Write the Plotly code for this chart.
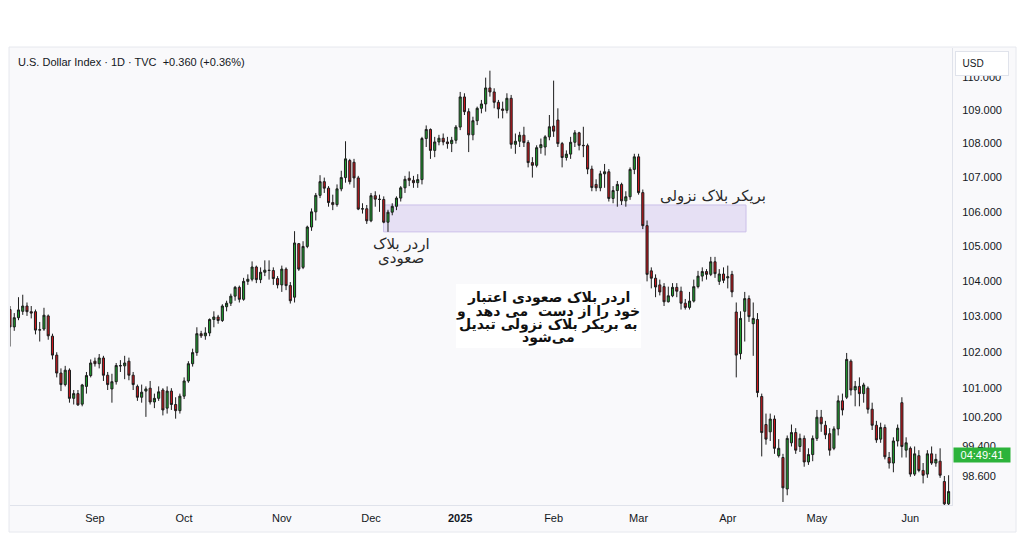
import math
import pandas as pd
import plotly.graph_objects as go

# ---------------- data ----------------
holidays = ["2024-12-25", "2025-01-01", "2025-04-18"]
dates = [d.strftime("%Y-%m-%d") for d in pd.bdate_range("2024-08-01", "2025-06-13")
         if d.strftime("%Y-%m-%d") not in holidays]

opens = [
    # Aug
    104.10, 104.40, 103.20, 102.71, 102.97, 103.15, 103.30, 103.14, 103.14, 102.62, 102.65,
    103.02, 102.45, 101.92, 101.42, 101.10, 101.50, 100.72, 100.85, 100.56, 101.05, 101.35,
    # Sep
    101.75, 101.68, 101.84, 101.36, 100.98, 101.18, 101.63, 101.62, 101.75, 101.36, 101.05,
    100.75, 100.92, 101.00, 100.62, 100.72, 100.95, 100.45, 100.92, 100.55, 100.38,
    # Oct
    100.78, 101.20, 101.68, 101.99, 102.52, 102.46, 102.54, 102.92, 102.99, 102.89, 103.28,
    103.38, 103.58, 103.83, 103.49, 104.00, 104.06, 104.41, 104.05, 104.26, 104.32, 104.31, 104.08,
    # Nov
    103.90, 104.35, 103.88, 103.55, 105.08, 104.40, 105.00, 105.56, 106.00, 106.48, 106.88,
    106.69, 106.27, 106.21, 106.67, 107.00, 107.50, 107.45, 106.99, 106.08, 106.09,
    # Dec
    105.74, 106.47, 106.37, 106.36, 105.70, 105.99, 106.16, 106.40, 106.70, 106.98, 106.92,
    106.85, 106.94, 108.15, 108.42, 107.80, 108.05, 108.16, 108.05, 108.00, 108.10,
    # Jan
    108.49, 109.39, 108.95, 108.26, 108.68, 109.05, 109.18, 109.66, 109.54, 109.23, 109.03,
    108.99, 109.35, 107.98, 108.07, 108.25, 108.03, 107.44, 107.36, 107.88, 107.90, 108.20,
    # Feb
    108.52, 108.70, 108.00, 107.59, 107.69, 108.04, 108.32, 107.95, 107.94, 107.25, 106.80,
    106.70, 107.11, 107.17, 106.39, 106.62, 106.80, 106.32, 106.44, 107.24,
    # Mar
    107.61, 106.56, 105.60, 104.30, 104.09, 103.90, 103.85, 103.42, 103.59, 103.83, 103.72,
    103.38, 103.26, 103.44, 103.85, 104.15, 104.28, 104.20, 104.56, 104.00, 104.21,
    # Apr
    104.10, 104.20, 103.13, 101.96, 103.15, 103.51, 102.80, 102.92, 100.77, 100.00, 99.80,
    100.15, 99.15, 99.10, 98.25, 99.50, 99.78, 99.40, 99.62, 98.98, 99.18,
    # May
    99.62, 100.20, 99.98, 99.75, 99.35, 99.88, 100.65, 100.75, 101.75, 100.95, 101.05,
    100.85, 101.00, 100.42, 99.98, 99.60, 99.92, 99.10, 98.95, 99.55, 100.60, 99.30,
    # Jun
    99.35, 98.65, 99.15, 98.75, 98.65, 99.20, 98.95, 99.00, 98.45, 97.85,
]

highs = [
    # Aug
    104.50, 104.45, 103.30, 103.10, 103.55, 103.62, 103.40, 103.30, 103.20, 102.85, 103.25,
    103.06, 102.52, 102.00, 101.55, 101.62, 101.55, 100.95, 100.95, 101.12, 101.45, 101.80,
    # Sep
    101.85, 101.95, 101.90, 101.45, 101.40, 101.70, 101.78, 101.90, 101.85, 101.45, 101.10,
    101.10, 101.05, 101.20, 100.85, 101.05, 101.00, 101.05, 101.00, 100.75, 100.85,
    # Oct
    101.30, 101.75, 102.10, 102.70, 102.60, 102.70, 102.95, 103.15, 103.05, 103.35, 103.45,
    103.65, 103.87, 103.88, 104.10, 104.20, 104.57, 104.45, 104.40, 104.60, 104.60, 104.40, 104.15,
    # Nov
    104.45, 104.40, 103.98, 105.44, 105.10, 105.15, 105.60, 106.10, 106.55, 107.07, 107.00,
    106.75, 106.50, 106.80, 107.20, 108.07, 107.55, 107.55, 107.05, 106.25, 106.20,
    # Dec
    106.55, 106.60, 106.50, 106.45, 106.06, 106.25, 106.45, 106.75, 107.05, 107.18, 107.05,
    107.10, 108.20, 108.54, 108.45, 108.20, 108.26, 108.30, 108.20, 108.20, 108.55,
    # Jan
    109.54, 109.50, 109.05, 108.80, 109.10, 109.30, 109.97, 110.18, 109.65, 109.30, 109.25,
    109.50, 109.45, 108.30, 108.35, 108.50, 108.10, 107.60, 107.95, 108.15, 108.25, 108.85,
    # Feb
    109.88, 109.05, 108.05, 107.80, 108.20, 108.40, 108.35, 108.50, 108.00, 107.35, 106.95,
    107.20, 107.40, 107.25, 106.75, 106.90, 106.85, 106.60, 107.30, 107.70,
    # Mar
    107.70, 106.65, 105.75, 104.40, 104.20, 104.05, 103.95, 103.85, 103.95, 103.95, 103.85,
    103.50, 103.70, 104.05, 104.30, 104.40, 104.35, 104.70, 104.70, 104.35, 104.40,
    # Apr
    104.45, 104.30, 103.40, 103.15, 103.70, 103.60, 103.40, 103.10, 100.85, 100.30, 100.30,
    100.25, 99.60, 99.20, 99.70, 100.00, 99.90, 99.75, 99.70, 99.35, 99.70,
    # May
    100.40, 100.40, 100.10, 99.90, 99.95, 100.80, 100.85, 101.98, 101.80, 101.20, 101.30,
    101.15, 101.05, 100.60, 100.10, 100.05, 100.00, 99.25, 99.65, 100.00, 100.75, 99.65,
    # Jun
    99.40, 99.40, 99.30, 98.95, 99.30, 99.40, 99.20, 99.35, 98.60, 98.62,
]

lows = [
    # Aug
    103.85, 103.00, 102.16, 102.60, 102.90, 103.05, 103.02, 102.95, 102.50, 102.30, 102.60,
    102.35, 101.80, 101.30, 100.92, 101.05, 100.60, 100.55, 100.51, 100.50, 100.85, 101.30,
    # Sep
    101.60, 101.55, 101.20, 100.95, 100.60, 101.10, 101.45, 101.25, 101.22, 100.95, 100.65,
    100.60, 100.21, 100.55, 100.45, 100.65, 100.25, 100.30, 100.40, 100.16, 100.30,
    # Oct
    100.70, 101.15, 101.60, 101.90, 102.40, 102.35, 102.45, 102.70, 102.80, 102.85, 103.15,
    103.30, 103.45, 103.40, 103.45, 103.90, 104.00, 103.95, 103.95, 104.15, 104.05, 103.90, 103.80,
    # Nov
    103.70, 103.75, 103.37, 103.40, 104.30, 104.35, 104.95, 105.45, 105.75, 106.40, 106.55,
    106.15, 106.05, 106.15, 106.60, 106.85, 106.80, 106.70, 106.05, 105.95, 105.65,
    # Dec
    105.70, 106.15, 106.00, 105.67, 105.42, 105.90, 106.05, 106.30, 106.55, 106.75, 106.70,
    106.70, 106.80, 107.90, 107.55, 107.60, 107.95, 107.95, 107.85, 107.75, 108.00,
    # Jan
    108.40, 108.85, 107.75, 108.10, 108.55, 108.90, 108.95, 109.40, 109.05, 108.75, 108.75,
    108.90, 107.85, 107.70, 107.90, 107.90, 107.30, 107.00, 107.30, 107.70, 107.65, 108.10,
    # Feb
    108.20, 107.90, 107.30, 107.50, 107.55, 107.90, 107.80, 107.60, 107.10, 106.60, 106.60,
    106.60, 106.70, 106.30, 106.25, 106.15, 106.20, 106.15, 106.35, 107.10,
    # Mar
    106.50, 105.50, 104.00, 103.80, 103.55, 103.60, 103.30, 103.40, 103.55, 103.55, 103.20,
    103.20, 103.20, 103.40, 103.80, 104.00, 104.05, 104.15, 104.10, 103.90, 103.95,
    # Apr
    103.80, 103.55, 101.30, 101.80, 102.30, 102.85, 101.90, 100.75, 99.13, 99.45, 99.55,
    99.20, 99.10, 97.90, 98.08, 99.40, 99.20, 99.25, 98.85, 98.90, 99.00,
    # May
    99.55, 99.80, 99.60, 99.15, 99.30, 99.70, 100.25, 100.70, 100.80, 100.50, 100.50,
    100.60, 100.30, 99.85, 99.50, 99.50, 99.05, 98.80, 98.70, 99.40, 99.10, 99.10,
    # Jun
    98.58, 98.60, 98.70, 98.40, 98.55, 98.90, 98.85, 98.55, 97.65, 97.60,
]

closes = [
    # Aug
    104.41, 103.21, 102.71, 102.97, 103.19, 103.30, 103.14, 103.10, 102.62, 102.63, 103.04,
    102.46, 101.92, 101.42, 101.10, 101.50, 100.72, 100.85, 100.54, 101.09, 101.35, 101.70,
    # Sep
    101.68, 101.84, 101.36, 101.10, 101.18, 101.63, 101.62, 101.70, 101.36, 101.10, 100.75,
    100.89, 100.98, 100.62, 100.72, 100.90, 100.40, 100.92, 100.55, 100.38, 100.78,
    # Oct
    101.20, 101.68, 101.99, 102.52, 102.46, 102.54, 102.92, 102.99, 102.89, 103.30, 103.38,
    103.58, 103.83, 103.49, 104.00, 104.06, 104.41, 104.05, 104.26, 104.32, 104.31, 104.08, 103.90,
    # Nov
    104.35, 103.88, 103.45, 105.10, 104.35, 105.00, 105.56, 106.00, 106.48, 106.88, 106.69,
    106.27, 106.21, 106.67, 107.00, 107.55, 106.88, 106.99, 106.08, 106.09, 105.74,
    # Dec
    106.47, 106.37, 106.36, 105.70, 105.99, 106.16, 106.40, 106.70, 106.95, 106.92, 106.85,
    106.94, 108.15, 108.42, 107.80, 108.05, 108.16, 108.05, 108.00, 108.10, 108.49,
    # Jan
    109.39, 108.95, 108.26, 108.68, 109.05, 109.18, 109.66, 109.54, 109.23, 109.03, 108.99,
    109.35, 107.98, 108.07, 108.25, 108.03, 107.44, 107.36, 107.88, 107.97, 108.20, 108.50,
    # Feb
    108.37, 108.00, 107.59, 107.69, 108.04, 108.32, 107.95, 107.94, 107.25, 106.71, 106.70,
    107.11, 107.17, 106.39, 106.62, 106.80, 106.32, 106.44, 107.24, 107.61,
    # Mar
    106.56, 105.60, 104.20, 104.09, 103.84, 103.70, 103.42, 103.59, 103.83, 103.72, 103.38,
    103.26, 103.44, 103.85, 104.15, 104.28, 104.20, 104.56, 104.22, 104.21, 104.03,
    # Apr
    104.13, 103.70, 101.92, 102.95, 103.51, 103.00, 102.95, 100.88, 99.78, 99.60, 100.15,
    99.35, 99.35, 98.28, 99.62, 99.78, 99.30, 99.62, 98.98, 99.18, 99.62,
    # May
    100.20, 100.02, 99.72, 99.30, 99.88, 100.65, 100.40, 101.80, 100.95, 101.05, 100.85,
    101.09, 100.42, 99.98, 99.58, 99.92, 99.12, 98.95, 99.55, 99.90, 99.40, 99.50,
    # Jun
    98.65, 99.20, 98.75, 98.62, 99.20, 98.95, 99.05, 98.62, 97.85, 98.18,
]

month_tick_dates = ["2024-09-02", "2024-10-01", "2024-11-01", "2024-12-02", "2025-01-02",
                    "2025-02-03", "2025-03-03", "2025-04-01", "2025-05-01", "2025-06-02"]
month_tick_labels = ["Sep", "Oct", "Nov", "Dec", "<b>2025</b>", "Feb", "Mar", "Apr", "May", "Jun"]
price_ticks = [98.6, 99.4, 100.2, 101, 102, 103, 104, 105, 106, 107, 108, 109, 110]

zone_start, zone_end = "2024-12-05", "2025-04-07"
zone_low, zone_high = 105.42, 106.20

title_text = "U.S. Dollar Index · 1D · TVC  +0.360 (+0.36%)"
label_breaker = "بریکر بلاک نزولی"
label_ob_lines = ["اردر بلاک", "صعودی"]
label_note_lines = ["اردر بلاک صعودی اعتبار", "خود را از دست  می دهد  و",
                    "به بریکر بلاک نزولی تبدیل", "می‌شود"]

assert len(dates) == len(opens) == len(highs) == len(lows) == len(closes)

# ---------------- layout geometry (pixels) ----------------
W, H = 1024, 534
PL, PR, PT, PB = 10, 952, 48, 505       # plot area
PW, PH = PR - PL, PB - PT


def px(x):
    return (x - PL) / PW


def py(y):
    return (PB - y) / PH


PANEL = "#f9f9fb"
INK = "#131722"
FONT = "Liberation Sans"
AR_FONT = "DejaVu Sans"

fig = go.Figure(go.Candlestick(
    x=dates, open=opens, high=highs, low=lows, close=closes,
    increasing=dict(line=dict(color="#1d1d1d", width=1), fillcolor="#1f9e2f"),
    decreasing=dict(line=dict(color="#1d1d1d", width=1), fillcolor="#c8171d"),
    whiskerwidth=0, showlegend=False, hoverinfo="skip",
))

i0 = dates.index(zone_start)
i1 = dates.index(zone_end)

shapes = [
    # order-block / breaker zone (shape positions on a log axis are data values)
    dict(type="rect", xref="x", yref="y", x0=i0 - 0.05, x1=i1 + 0.3,
         y0=zone_low, y1=zone_high,
         fillcolor="#e6e0f4", line=dict(color="#cbbfe9", width=1), layer="between"),
    # white box behind the note
    dict(type="rect", xref="paper", yref="paper", x0=px(456), x1=px(641), y0=py(348), y1=py(284),
         fillcolor="#ffffff", line=dict(width=0), layer="above"),
    # white page outside the chart panel
    dict(type="rect", xref="paper", yref="paper", x0=px(0), x1=px(W), y0=py(47), y1=py(0),
         fillcolor="#ffffff", line=dict(width=0), layer="above"),
    dict(type="rect", xref="paper", yref="paper", x0=px(0), x1=px(9), y0=py(H), y1=py(0),
         fillcolor="#ffffff", line=dict(width=0), layer="above"),
    dict(type="rect", xref="paper", yref="paper", x0=px(1016), x1=px(W), y0=py(H), y1=py(0),
         fillcolor="#ffffff", line=dict(width=0), layer="above"),
    dict(type="rect", xref="paper", yref="paper", x0=px(0), x1=px(W), y0=py(H), y1=py(532),
         fillcolor="#ffffff", line=dict(width=0), layer="above"),
    # panel border
    dict(type="rect", xref="paper", yref="paper", x0=px(9), x1=px(1016), y0=py(532), y1=py(47),
         fillcolor="rgba(0,0,0,0)", line=dict(color="#e6e8ee", width=1), layer="above"),
]

annotations = [
    dict(text=title_text, xref="paper", yref="paper", x=px(16), y=py(62),
         xanchor="left", yanchor="middle", showarrow=False,
         font=dict(family=FONT, size=11, color=INK)),
    dict(text=label_breaker, xref="paper", yref="paper", x=px(713), y=py(196),
         xanchor="center", yanchor="middle", showarrow=False,
         font=dict(family=AR_FONT, size=15, color="#2a2a2a")),
]
for line, yy in zip(label_ob_lines, [244, 258]):
    annotations.append(dict(text=line, xref="paper", yref="paper", x=px(401), y=py(yy),
                            xanchor="center", yanchor="middle", showarrow=False,
                            font=dict(family=AR_FONT, size=15, color="#2a2a2a")))
for line, yy in zip(label_note_lines, [297, 311, 324, 337]):
    annotations.append(dict(text=line, xref="paper", yref="paper", x=px(548), y=py(yy),
                            xanchor="center", yanchor="middle", showarrow=False,
                            font=dict(family=AR_FONT, size=14, color="#111111", weight="bold")))
annotations += [
    dict(text="&nbsp;&nbsp;USD", xref="paper", yref="paper", x=px(955), y=py(51),
         xanchor="left", yanchor="top", showarrow=False, align="left",
         width=50, height=21, bgcolor="#ffffff", bordercolor="#e0e3eb", borderwidth=1, borderpad=1,
         font=dict(family=FONT, size=10, color=INK)),
    dict(text="04:49:41", xref="paper", yref="paper", x=px(953), y=py(454.5),
         xanchor="left", yanchor="middle", showarrow=False,
         width=54, height=12, bgcolor="#2cb33b", borderpad=1,
         font=dict(family=FONT, size=11, color="#ffffff")),
]

fig.update_layout(
    width=W, height=H,
    margin=dict(l=PL, r=W - PR, t=PT, b=H - PB, pad=0),
    paper_bgcolor=PANEL, plot_bgcolor=PANEL,
    shapes=shapes, annotations=annotations,
    xaxis=dict(type="category", range=[2.0, 223.8], tickmode="array",
               tickvals=month_tick_dates, ticktext=month_tick_labels,
               showgrid=False, zeroline=False, showline=True, linecolor="#e0e3eb",
               ticks="", ticklabelstandoff=3, automargin=False,
               tickfont=dict(family=FONT, size=11, color=INK),
               rangeslider=dict(visible=False), fixedrange=True),
    yaxis=dict(type="log", side="right",
               range=[math.log10(97.819), math.log10(110.867)],
               tickmode="array", tickvals=price_ticks,
               ticktext=[f"{v:.3f}" for v in price_ticks],
               showgrid=False, zeroline=False, showline=True, linecolor="#e0e3eb",
               ticks="", ticklabelstandoff=7, automargin=False,
               tickfont=dict(family=FONT, size=11, color=INK), fixedrange=True),
    hovermode=False,
)

fig.write_html("out.html", config={"displayModeBar": False})
